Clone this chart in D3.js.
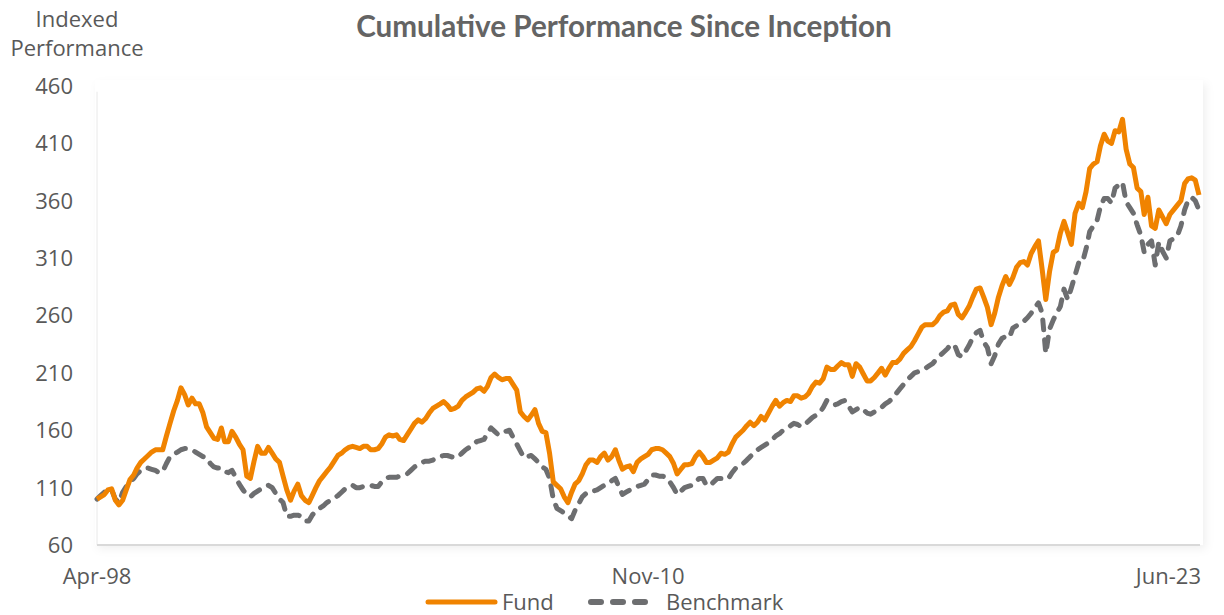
<!DOCTYPE html>
<html>
<head>
<meta charset="utf-8">
<script src="https://cdnjs.cloudflare.com/ajax/libs/d3/7.8.5/d3.min.js"></script>
<style>
    body { margin: 0; background: #fff; }
    text { font-family: "Open Sans", "Liberation Sans", sans-serif; fill: #595959; }
</style>
</head>
<body>
<div id="chart"></div>
<script>
// monthly indexed values, Apr-98 .. Jun-23
var startMonth = "1998-04";
var seriesNames = ["Fund", "Benchmark"];

var fundValues = [
    100,102,104,108,109,99,95,99,108,117,
    121,127,132,135,138,141,143,143,143,155,
    166,177,186,197,191,182,188,183,183,175,
    163,158,153,152,162,150,150,159,154,148,
    143,120,118,133,146,140,140,145,140,135,
    132,120,108,99,107,113,103,99,97,103,
    110,116,120,124,128,133,138,140,143,145,
    146,145,144,146,146,143,143,144,148,154,
    156,155,156,152,151,156,161,166,169,167,
    170,175,179,181,183,185,182,178,179,181,
    186,189,191,193,196,197,194,198,206,209,
    206,204,205,205,200,195,176,172,169,173,
    178,166,159,158,140,115,112,109,102,97,
    106,113,116,122,130,134,134,132,137,140,
    134,137,143,134,126,128,129,124,132,135,
    137,139,143,144,144,143,140,137,131,122,
    126,130,130,131,137,141,137,132,132,134,
    136,140,139,141,148,154,157,160,164,167,
    164,167,172,169,175,181,186,181,184,186,
    185,190,190,188,189,192,198,202,201,205,
    215,213,213,216,219,217,217,207,218,215,
    209,203,203,206,210,214,208,214,219,219,
    222,227,230,233,238,244,250,252,252,252,
    255,260,263,264,269,270,261,258,263,268,
    276,283,284,276,267,252,262,276,286,294,
    287,293,302,306,307,304,314,320,325,300,
    274,298,315,317,332,342,332,322,349,358,
    354,368,388,392,394,408,418,412,410,421,
    420,431,405,392,389,371,368,348,363,338,
    336,352,346,340,348,352,356,360,375,379,
    380,378,365
];

var benchValues = [
    100,103,106,107,108,100,97,106,111,115,
    118,122,125,127,127,126,125,123,124,131,
    137,139,141,143,144,144,143,141,139,137,
    136,131,128,127,127,124,123,125,119,113,
    108,104,102,105,107,109,111,112,110,105,
    100,97,85,85,86,86,85,81,81,86,
    90,92,94,97,99,101,103,106,109,111,
    112,110,110,111,112,112,111,111,115,118,
    119,119,119,120,121,122,125,128,130,132,
    133,133,134,136,137,138,138,137,136,137,
    140,143,145,147,150,151,152,157,162,159,
    156,158,159,160,154,148,142,136,137,138,
    135,132,128,126,118,100,92,90,88,85,
    83,90,96,102,105,107,107,108,110,112,
    113,116,118,111,104,106,108,109,111,112,
    113,117,121,121,120,120,119,115,110,104,
    107,110,111,112,115,118,118,112,112,115,
    118,118,117,118,123,127,129,131,134,137,
    140,143,145,147,149,152,155,157,160,162,
    164,166,165,163,165,168,171,173,175,180,
    186,184,182,183,185,186,181,176,178,180,
    178,175,174,176,178,180,183,185,188,192,
    196,200,204,207,210,211,213,214,216,218,
    222,225,228,231,235,234,226,224,229,234,
    241,245,247,237,232,218,225,235,240,242,
    241,249,251,253,255,258,262,267,271,262,
    227,248,256,262,268,283,274,284,295,306,
    306,318,333,338,343,355,362,362,358,371,
    374,376,359,354,349,339,330,315,322,325,
    304,324,316,310,325,327,329,338,352,360,
    363,360,352
];

var yTicks = [60, 110, 160, 210, 260, 310, 360, 410, 460];
var xTickMonths = ["1998-04", "2010-11", "2023-06"];
var xTickLabels = ["Apr-98", "Nov-10", "Jun-23"];

var parseMonth = d3.timeParse("%Y-%m");
var start = parseMonth(startMonth);

var fundData = fundValues.map(function(v, i) {
    return {date: d3.timeMonth.offset(start, i), value: v};
});
var benchData = benchValues.map(function(v, i) {
    return {date: d3.timeMonth.offset(start, i), value: v};
});

var margin = {top: 86, right: 25, bottom: 70, left: 97};
var width = 1224 - margin.left - margin.right;
var height = 615 - margin.top - margin.bottom;

var svgRoot = d3.select("#chart").append("svg")
    .attr("width", 1224)
    .attr("height", 615);

var defs = svgRoot.append("defs");
var shadow = defs.append("filter")
    .attr("id", "plotShadow")
    .attr("x", "-5%").attr("y", "-5%")
    .attr("width", "110%").attr("height", "115%");
shadow.append("feDropShadow")
    .attr("dx", 3).attr("dy", 4)
    .attr("stdDeviation", 4)
    .attr("flood-color", "#000")
    .attr("flood-opacity", 0.06);

var svg = svgRoot.append("g")
    .attr("transform", "translate(" + margin.left + "," + margin.top + ")");

// plot area with faint shadow
svg.append("rect")
    .attr("x", -2)
    .attr("y", -6)
    .attr("width", width + 6)
    .attr("height", height + 6)
    .attr("fill", "#fff")
    .attr("filter", "url(#plotShadow)");

var x = d3.scaleTime()
    .domain([start, d3.timeMonth.offset(start, fundValues.length - 1)])
    .range([0, width]);

var y = d3.scaleLinear()
    .domain([60, 460])
    .range([height, 0]);

// axis lines
svg.append("line")
    .attr("x1", 0).attr("x2", 0)
    .attr("y1", y(455)).attr("y2", height)
    .attr("stroke", "#e8e8e8")
    .attr("stroke-width", 1);
svg.append("line")
    .attr("x1", 0).attr("x2", width + 1)
    .attr("y1", height).attr("y2", height)
    .attr("stroke", "#d9d9d9")
    .attr("stroke-width", 2);

// y tick labels
svg.selectAll(".y-label")
    .data(yTicks)
    .enter().append("text")
    .attr("class", "y-label")
    .attr("x", -24)
    .attr("y", function(d) { return y(d); })
    .attr("dy", "0.36em")
    .attr("text-anchor", "end")
    .style("font-size", "22px")
    .text(function(d) { return d; });

// x tick labels
svg.selectAll(".x-label")
    .data(xTickMonths)
    .enter().append("text")
    .attr("class", "x-label")
    .attr("x", function(d, i) {
        var px = x(parseMonth(d));
        return i === xTickMonths.length - 1 ? px + 2 : px;
    })
    .attr("y", height + 39)
    .attr("text-anchor", function(d, i) {
        return i === xTickMonths.length - 1 ? "end" : "middle";
    })
    .style("font-size", "22px")
    .text(function(d, i) { return xTickLabels[i]; });

var line = d3.line()
    .x(function(d) { return x(d.date); })
    .y(function(d) { return y(d.value); });

svg.append("path")
    .datum(benchData)
    .attr("fill", "none")
    .attr("stroke", "#6d6e70")
    .attr("stroke-width", 5)
    .attr("stroke-linecap", "round")
    .attr("stroke-linejoin", "round")
    .attr("stroke-dasharray", "10,10")
    .attr("d", line);

svg.append("path")
    .datum(fundData)
    .attr("fill", "none")
    .attr("stroke", "#f08300")
    .attr("stroke-width", 5)
    .attr("stroke-linejoin", "round")
    .attr("d", line);

// title
var title = svgRoot.append("text")
    .attr("x", 624)
    .attr("y", 37)
    .attr("text-anchor", "middle")
    .style("font-family", "Lato, 'Open Sans', sans-serif")
    .style("font-weight", "bold")
    .style("font-size", "25px")
    .style("fill", "#646464")
    .text("Cumulative Performance Since Inception");
var tw = title.node().getComputedTextLength();
title.style("font-size", (25 * 536 / tw) + "px");

// y axis title
var yTitle = svgRoot.append("text")
    .attr("text-anchor", "middle")
    .style("font-size", "22px");
yTitle.append("tspan").attr("x", 77).attr("y", 27).text("Indexed");
yTitle.append("tspan").attr("x", 77).attr("y", 56).text("Performance");

// legend
var legend = svgRoot.append("g");
legend.append("line")
    .attr("x1", 428).attr("x2", 495)
    .attr("y1", 602).attr("y2", 602)
    .attr("stroke", "#f08300")
    .attr("stroke-width", 5)
    .attr("stroke-linecap", "round");
legend.append("text")
    .attr("x", 502).attr("y", 610)
    .style("font-size", "22px")
    .text(seriesNames[0]);
legend.append("line")
    .attr("x1", 591).attr("x2", 655)
    .attr("y1", 602).attr("y2", 602)
    .attr("stroke", "#6d6e70")
    .attr("stroke-width", 6)
    .attr("stroke-linecap", "round")
    .attr("stroke-dasharray", "10,12");
legend.append("text")
    .attr("x", 666).attr("y", 610)
    .style("font-size", "22px")
    .text(seriesNames[1]);
</script>
</body>
</html>
